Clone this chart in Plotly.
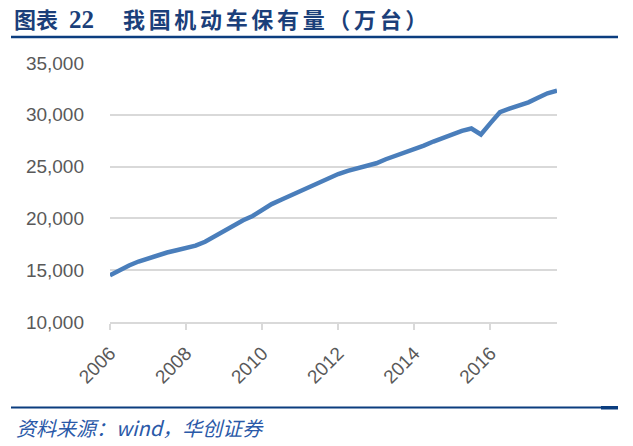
import plotly.graph_objects as go

# quarterly stock of motor vehicles (10k units), 2006Q1 - 2017Q4
years = [2006 + q / 4 for q in range(48)]
vehicles = [
    14500, 15020, 15460, 15840, 16160, 16430, 16710, 16920,
    17100, 17370, 17750, 18270, 18780, 19390, 19820, 20230,
    20820, 21380, 21800, 22210, 22690, 23140, 23550, 23940,
    24280, 24590, 24860, 25060, 25320, 25710, 26020, 26330,
    26650, 27030, 27420, 27790, 28140, 28450, 28680, 28100,
    29200, 30250, 30600, 30900, 31200, 31650, 32080, 32340,
]
tick_years = [2006, 2008, 2010, 2012, 2014, 2016]
tick_labels = [str(y) for y in tick_years]

W, H = 633, 446
L, R, T, B = 110, 76, 63, 124
NAVY = "#0B3D7F"


def px(x):
    return (x - L) / (W - L - R)


def py(y):
    return (H - B - y) / (H - T - B)


fig = go.Figure()
fig.add_trace(go.Scatter(
    x=years, y=vehicles, mode="lines",
    line=dict(color="#4A7EBB", width=4.5), hoverinfo="skip",
))

fig.update_layout(
    width=W, height=H,
    margin=dict(l=L, r=R, t=T, b=B),
    paper_bgcolor="white", plot_bgcolor="white",
    showlegend=False,
    font=dict(family="Liberation Sans, Arial", size=19, color="#595959"),
)
fig.update_xaxes(
    range=[2006, 2017.75], tickvals=tick_years, ticktext=tick_labels,
    tickangle=-45, showgrid=False, zeroline=False,
    showline=True, linecolor="#D9D9D9", linewidth=1.5,
    ticks="outside", ticklen=6, tickcolor="#D9D9D9", tickwidth=1.5,
    ticklabelstandoff=5,
)
fig.update_yaxes(
    range=[10000, 35000], dtick=5000, tickformat=",d",
    showgrid=True, gridcolor="#D9D9D9", gridwidth=1.5, zeroline=False,
    showline=False, ticks="", ticklabelstandoff=25,
)

# header rule and footer rule
fig.add_shape(type="line", xref="paper", yref="paper",
              x0=px(11), x1=px(618), y0=py(37), y1=py(37),
              line=dict(color=NAVY, width=2.5))
fig.add_shape(type="line", xref="paper", yref="paper",
              x0=px(11), x1=px(601), y0=py(407.5), y1=py(407.5),
              line=dict(color=NAVY, width=2))
fig.add_shape(type="rect", xref="paper", yref="paper",
              x0=px(601), x1=px(618), y0=py(406), y1=py(409.5),
              line=dict(width=0), fillcolor=NAVY)

fig.add_annotation(
    text="<b>图表\u2002<span style='font-family:Liberation Serif;font-size:25px'>22</span></b>",
    xref="paper", yref="paper",
    x=px(12), y=py(18), xanchor="left", yanchor="middle", showarrow=False,
    font=dict(family="Noto Sans CJK SC", size=22, color="#1B3F7A"),
)
fig.add_annotation(
    text="<b>" + "\u2006".join("我国机动车保有量（万台）") + "</b>",
    xref="paper", yref="paper",
    x=px(121), y=py(18), xanchor="left", yanchor="middle", showarrow=False,
    font=dict(family="Noto Sans CJK SC", size=22, color="#1B3F7A"),
)
fig.add_annotation(
    text="<i>资料来源：wind，华创证券</i>", xref="paper", yref="paper",
    x=px(14), y=py(427), xanchor="left", yanchor="middle", showarrow=False,
    font=dict(family="Noto Sans CJK SC", size=20, color="#2A59A8"),
)

# page margin would push the 633x446 figure 8px off the window
fig.write_html("out.html", config={"displayModeBar": False},
               post_script="document.body.style.margin='0';")
